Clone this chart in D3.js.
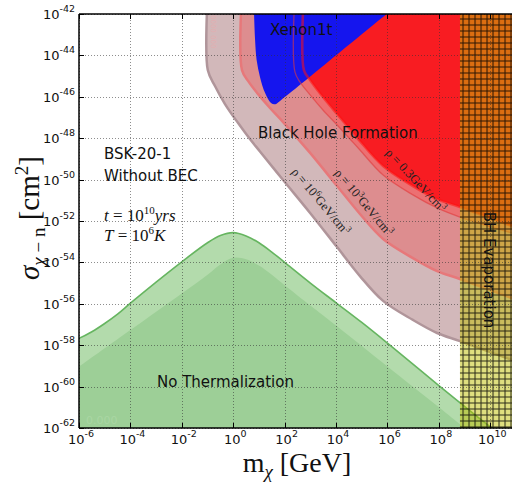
<!DOCTYPE html>
<html>
<head>
<meta charset="utf-8">
<script src="https://cdn.jsdelivr.net/npm/d3@7"></script>
<style>
  body { margin: 0; background: #fff; }
  svg { display: block; }
</style>
</head>
<body>
<script>
// all values are [log10 m (GeV), log10 sigma (cm^2)]
var xTicks = [-6, -4, -2, 0, 2, 4, 6, 8, 10];
var yTicks = [-62, -60, -58, -56, -54, -52, -50, -48, -46, -44, -42];

// no thermalization (two fills)
var greenOuter = [[-6.3,-57.8],[-6,-57.67],[-5.5,-57.35],[-5,-56.95],[-4.5,-56.5],[-4,-55.97],[-3,-54.95],
  [-2,-53.97],[-1,-53.05],[-0.5,-52.7],[0,-52.56],[0.5,-52.72],[1,-53.05],[1.5,-53.5],[2,-54.0],
  [3,-55.0],[4,-55.95],[5,-56.9],[6,-57.9],[8,-59.95],[10,-61.95],[11.5,-63.4]];
var greenInner = [[-6.3,-59.3],[-6,-59.04],[-4,-57.27],[-2,-55.5],[-1,-54.6],[-0.5,-54.1],[0,-53.78],
  [0.5,-53.85],[1,-54.15],[1.5,-54.6],[2,-55.1],[3,-56.08],[4,-57.05],[6,-59.03],[8,-61.0],[9,-62.0],[11.5,-64.5]];

// black hole formation boundaries
var rho6 = [[-0.99,-41],[-0.99,-44.71],[-0.71,-45.48],[-0.32,-46.35],[0.19,-47.27],[0.65,-48.04],[1.04,-48.64],
  [1.94,-50.02],[2.99,-51.61],[4.04,-53.26],[4.93,-54.66],[5.83,-55.86],[6.99,-56.78],[7.93,-57.41],
  [8.82,-57.8],[10.84,-58.71],[11.54,-59.0]];
var rho3 = [[0.34,-41],[0.34,-44.71],[0.61,-45.29],[0.96,-45.86],[1.43,-46.54],[1.94,-47.22],[2.99,-48.71],
  [4.04,-50.31],[4.93,-51.66],[5.83,-52.87],[6.99,-53.79],[7.93,-54.42],[8.82,-54.8],[10.84,-55.72],[11.54,-56.01]];
var rho03 = [[2.75,-41],[2.75,-44.71],[2.99,-45.19],[3.49,-46.01],[4.04,-46.83],[4.54,-47.56],[4.93,-48.14],
  [5.83,-49.34],[6.99,-50.31],[7.93,-50.94],[8.82,-51.32],[10.84,-52.24],[11.54,-52.53]];
var rho03Outer = [[2.4,-41],[2.4,-44.8],[2.6,-45.29],[2.99,-45.91],[3.49,-46.64],[4.04,-47.36],[4.54,-48.04],
  [4.93,-48.57],[5.83,-49.78],[6.99,-50.74],[7.93,-51.37],[8.82,-51.81],[10.84,-52.58],[11.54,-52.82]];

// xenon1t exclusion
var xenon = [[0.79,-41],[0.81,-42],[0.85,-43.26],[0.91,-44.22],[1.04,-45.04],[1.24,-45.82],[1.47,-46.3],
  [1.63,-46.36],[1.82,-46.2],[5.97,-42],[7.0,-41]];

// BH evaporation starts at
var evapStart = 8.82;

var W = 512, H = 482;
var svg = d3.select("body").append("svg").attr("width", W).attr("height", H);

var x = d3.scaleLog().domain([1e-6, 1e11]).range([79, 516]);
var y = d3.scaleLog().domain([1e-62, 1e-42]).range([428, 14]);
function px(d) { return x(Math.pow(10, d[0])); }
function py(d) { return y(Math.pow(10, d[1])); }

var smooth = d3.line().x(px).y(py).curve(d3.curveCatmullRom.alpha(0.5));

function above(c) { return [[c[0][0], -38]].concat(c, [[c[c.length - 1][0], -38]]); }
function below(c) { return [[c[0][0], -66]].concat(c, [[c[c.length - 1][0], -66]]); }

var defs = svg.append("defs");
defs.append("clipPath").attr("id", "plotclip")
  .append("rect").attr("x", 79).attr("y", 14).attr("width", 437).attr("height", 414);
var pat = defs.append("pattern").attr("id", "hatch")
  .attr("patternUnits", "userSpaceOnUse").attr("width", 6).attr("height", 6)
  .attr("x", 0.5).attr("y", 0.5);
pat.append("path").attr("d", "M0,0.5H6M0.5,0V6")
  .attr("stroke", "#000").attr("stroke-width", 1.1);

var plot = svg.append("g").attr("clip-path", "url(#plotclip)");

// green
plot.append("path").attr("d", smooth(below(greenOuter)) + "Z").attr("fill", "#b3dbac");
plot.append("path").attr("d", smooth(below(greenInner)) + "Z").attr("fill", "#9dcf97");
plot.append("path").attr("d", smooth(greenOuter)).attr("fill", "none")
  .attr("stroke", "#66b560").attr("stroke-width", 1.6);
plot.append("text").attr("x", 86).attr("y", 424).attr("font-family", "DejaVu Sans")
  .attr("font-size", 11).attr("fill", "#a9d6a3").text("0.000");

// rho = 1e6
plot.append("path").attr("d", smooth(above(rho6)) + "Z").attr("fill", "#d2b8ba");
plot.append("path").attr("d", smooth(rho6)).attr("fill", "none")
  .attr("stroke", "#b0959a").attr("stroke-width", 2.5);
plot.append("text").attr("transform", "translate(211,15) rotate(90)")
  .attr("font-family", "DejaVu Sans").attr("font-size", 7).attr("fill", "#e2aeb0")
  .text("0000 000");

// rho = 1e3
plot.append("path").attr("d", smooth(above(rho3)) + "Z").attr("fill", "#dd8d8f");
plot.append("path").attr("d", smooth(rho3)).attr("fill", "none")
  .attr("stroke", "#e7787a").attr("stroke-width", 2.5);

// rho = 0.3
plot.append("path").attr("d", smooth(above(rho03Outer)) + "Z").attr("fill", "#ec7072");
plot.append("path").attr("d", smooth(above(rho03)) + "Z").attr("fill", "#f81c22");

// xenon
plot.append("path").attr("d", smooth(above(xenon)) + "Z").attr("fill", "#1515ee");

// edge lines of the 0.3 band (seen through the blue)
plot.append("path").attr("d", smooth(rho03Outer)).attr("fill", "none")
  .attr("stroke", "#e03a3c").attr("stroke-width", 1.3).attr("opacity", 0.6);
plot.append("path").attr("d", smooth(rho03)).attr("fill", "none")
  .attr("stroke", "#ff1010").attr("stroke-width", 2.6).attr("opacity", 0.55);

// BH evaporation hatch
var ex = x(Math.pow(10, evapStart));
plot.append("rect").attr("x", ex).attr("y", 14).attr("width", 516 - ex).attr("height", 414)
  .attr("fill", "rgb(191,191,0)").attr("fill-opacity", 0.5);
plot.append("rect").attr("x", ex).attr("y", 14).attr("width", 516 - ex).attr("height", 414)
  .attr("fill", "url(#hatch)").attr("opacity", 0.8);

// grid
var grid = svg.append("g").attr("stroke", "#333").attr("stroke-width", 0.8)
  .attr("stroke-dasharray", "1,2").attr("opacity", 0.7);
xTicks.forEach(function(t) {
  var xx = Math.round(x(Math.pow(10, t))) + 0.5;
  grid.append("line").attr("x1", xx).attr("x2", xx).attr("y1", 14).attr("y2", 428);
});
yTicks.forEach(function(t) {
  var yy = Math.round(y(Math.pow(10, t))) + 0.5;
  grid.append("line").attr("x1", 79).attr("x2", 516).attr("y1", yy).attr("y2", yy);
});

// spines and ticks
var ax = svg.append("g").attr("stroke", "#000");
ax.append("line").attr("x1", 79).attr("x2", 79).attr("y1", 14).attr("y2", 428).attr("stroke-width", 1.5);
ax.append("line").attr("x1", 79).attr("x2", 516).attr("y1", 14).attr("y2", 14).attr("stroke-width", 1.5);
ax.append("line").attr("x1", 79).attr("x2", 516).attr("y1", 428).attr("y2", 428).attr("stroke-width", 1.5);
xTicks.forEach(function(t) {
  var xx = Math.round(x(Math.pow(10, t))) + 0.5;
  ax.append("line").attr("x1", xx).attr("x2", xx).attr("y1", 428).attr("y2", 423).attr("stroke-width", 1);
  ax.append("line").attr("x1", xx).attr("x2", xx).attr("y1", 14).attr("y2", 19).attr("stroke-width", 1);
});
yTicks.forEach(function(t) {
  var yy = Math.round(y(Math.pow(10, t))) + 0.5;
  ax.append("line").attr("x1", 79).attr("x2", 84).attr("y1", yy).attr("y2", yy).attr("stroke-width", 1);
});

// tick labels
var tl = svg.append("g").attr("font-family", "DejaVu Sans").attr("fill", "#111");
xTicks.forEach(function(t) {
  var tx = tl.append("text").attr("x", x(Math.pow(10, t)) + 2).attr("y", 444)
    .attr("text-anchor", "middle").attr("font-size", 13);
  tx.append("tspan").text("10");
  tx.append("tspan").attr("dy", -7).attr("font-size", 9.5).text(t);
});
yTicks.forEach(function(t) {
  var ty = tl.append("text").attr("x", 75).attr("y", y(Math.pow(10, t)) + 5)
    .attr("text-anchor", "end").attr("font-size", 13);
  ty.append("tspan").text("10");
  ty.append("tspan").attr("dy", -7).attr("font-size", 9.5).text(t);
});

// axis labels
var xl = svg.append("text").attr("x", 297).attr("y", 472).attr("text-anchor", "middle")
  .attr("font-family", "Liberation Serif").attr("font-size", 28).attr("fill", "#111");
xl.append("tspan").text("m");
xl.append("tspan").attr("dy", 6).attr("font-size", 19).attr("font-style", "italic").text("χ");
xl.append("tspan").attr("dy", -6).text(" [GeV]");

var yl = svg.append("text").attr("transform", "translate(39,218) rotate(-90)")
  .attr("text-anchor", "middle").attr("font-family", "Liberation Serif")
  .attr("font-size", 29).attr("fill", "#111");
yl.append("tspan").attr("font-style", "italic").text("σ");
yl.append("tspan").attr("dy", 6).attr("font-size", 19).attr("font-style", "italic").text("χ");
yl.append("tspan").attr("font-size", 19).text(" − n");
yl.append("tspan").attr("dy", -6).text(" [cm");
yl.append("tspan").attr("dy", -11).attr("font-size", 19).text("2");
yl.append("tspan").attr("dy", 11).text("]");

// annotations
var ann = svg.append("g").attr("font-family", "DejaVu Sans").attr("font-size", 15).attr("fill", "#111");
ann.append("text").attr("x", 270).attr("y", 35).text("Xenon1t");
ann.append("text").attr("x", 258).attr("y", 138).text("Black Hole Formation");
ann.append("text").attr("x", 104).attr("y", 159).text("BSK-20-1");
ann.append("text").attr("x", 104).attr("y", 181).text("Without BEC");
ann.append("text").attr("x", 157).attr("y", 387).text("No Thermalization");
ann.append("text").attr("transform", "translate(484,270) rotate(90)").attr("text-anchor", "middle")
  .text("BH Evaporation");

var mt = svg.append("g").attr("font-family", "Liberation Serif").attr("font-size", 17).attr("fill", "#111");
var t1 = mt.append("text").attr("x", 104).attr("y", 221);
t1.append("tspan").attr("font-style", "italic").text("t");
t1.append("tspan").text(" = 10");
t1.append("tspan").attr("dy", -7).attr("font-size", 11).text("10");
t1.append("tspan").attr("dy", 7).attr("font-style", "italic").text("yrs");
var t2 = mt.append("text").attr("x", 104).attr("y", 241);
t2.append("tspan").attr("font-style", "italic").text("T");
t2.append("tspan").text(" = 10");
t2.append("tspan").attr("dy", -7).attr("font-size", 11).text("6");
t2.append("tspan").attr("dy", 7).attr("font-style", "italic").text("K");

// rho labels along the lines
var rhoLabels = [
  {cx: 415, cy: 181, a: 47, pre: "ρ = 0.3GeV/cm", exp: "3"},
  {cx: 363, cy: 203, a: 50, pre: "ρ = 10", mid: "3", post: "GeV/cm", exp: "3"},
  {cx: 320, cy: 202, a: 50, pre: "ρ = 10", mid: "6", post: "GeV/cm", exp: "3"}
];
rhoLabels.forEach(function(r) {
  var t = svg.append("text").attr("transform", "translate(" + r.cx + "," + r.cy + ") rotate(" + r.a + ")")
    .attr("text-anchor", "middle").attr("dy", 3).attr("font-family", "Liberation Serif")
    .attr("font-size", 12.5).attr("fill", "#222");
  t.append("tspan").text(r.pre);
  if (r.mid) {
    t.append("tspan").attr("dy", -5).attr("font-size", 8.5).text(r.mid);
    t.append("tspan").attr("dy", 5).text(r.post);
  }
  t.append("tspan").attr("dy", -5).attr("font-size", 8.5).text(r.exp);
});
</script>
</body>
</html>
